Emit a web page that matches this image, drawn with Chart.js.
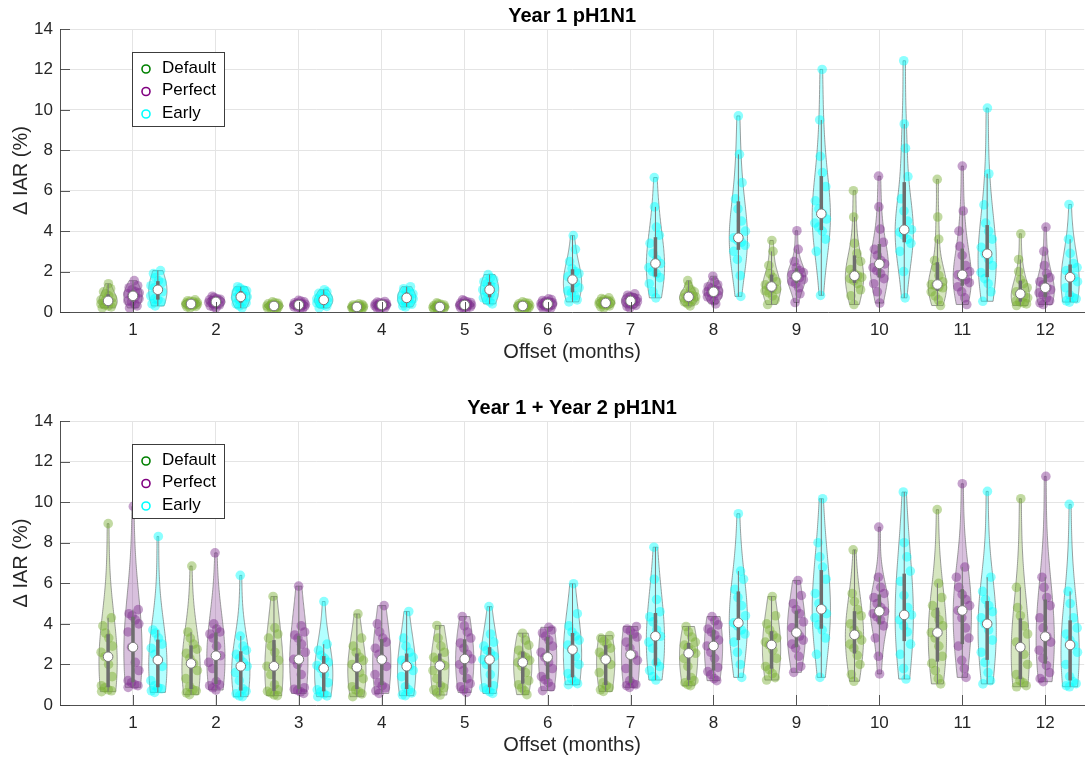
<!DOCTYPE html>
<html><head><meta charset="utf-8">
<script src="https://cdn.jsdelivr.net/npm/chart.js@4.4.0/dist/chart.umd.min.js"></script>
<style>
html,body{margin:0;padding:0;background:#fff;}
body{width:1089px;height:757px;position:relative;overflow:hidden;}
canvas{position:absolute;left:0;}
#c1{top:0;width:1089px;height:364px;}
#c2{top:392px;width:1089px;height:365px;}
</style></head><body>
<canvas id="c1" width="1089" height="364"></canvas>
<canvas id="c2" width="1089" height="365"></canvas>
<script>
// ---------- data ----------
const categories = [1,2,3,4,5,6,7,8,9,10,11,12];
const seriesNames = ['Default','Perfect','Early'];
const yTicks = [0,2,4,6,8,10,12,14];
const panelTitles = ['Year 1 pH1N1','Year 1 + Year 2 pH1N1'];
const xTitle = 'Offset (months)';
const yTitle = '\u0394 IAR (%)';

// Year 1 pH1N1 : samples per offset month
const y1Default = [
  [0.2,0.25,0.3,0.35,0.4,0.45,0.5,0.55,0.6,0.7,0.8,0.9,1.0,1.15,1.4],
  [0.2,0.25,0.28,0.3,0.33,0.36,0.38,0.4,0.42,0.45,0.48,0.5,0.53,0.56,0.6],
  [0.1,0.13,0.16,0.2,0.22,0.25,0.28,0.3,0.32,0.34,0.37,0.4,0.43,0.46,0.5],
  [0.1,0.12,0.15,0.17,0.19,0.21,0.23,0.25,0.27,0.29,0.31,0.33,0.35,0.37,0.4],
  [0.1,0.12,0.15,0.17,0.19,0.21,0.23,0.25,0.27,0.29,0.32,0.35,0.38,0.41,0.45],
  [0.1,0.13,0.16,0.19,0.22,0.25,0.28,0.3,0.32,0.34,0.37,0.4,0.43,0.46,0.5],
  [0.2,0.25,0.3,0.33,0.36,0.4,0.43,0.45,0.48,0.5,0.54,0.58,0.62,0.66,0.7],
  [0.3,0.4,0.5,0.55,0.6,0.65,0.7,0.75,0.8,0.85,0.9,1.0,1.1,1.3,1.55],
  [0.37,0.6,0.8,0.95,1.05,1.12,1.2,1.26,1.35,1.5,1.7,1.9,2.3,3.0,3.54],
  [0.37,0.8,1.1,1.4,1.55,1.65,1.72,1.79,1.9,2.1,2.5,2.9,3.4,4.7,6.0],
  [0.32,0.6,0.8,1.0,1.2,1.25,1.3,1.36,1.5,1.8,2.2,2.55,3.6,4.7,6.56],
  [0.32,0.4,0.45,0.5,0.55,0.7,0.8,0.9,1.0,1.2,1.4,1.6,2.0,2.6,3.87]
];
const y1Perfect = [
  [0.2,0.3,0.4,0.5,0.55,0.65,0.75,0.8,0.9,0.95,1.0,1.1,1.2,1.3,1.55],
  [0.2,0.25,0.3,0.35,0.4,0.44,0.47,0.5,0.53,0.56,0.6,0.63,0.67,0.72,0.78],
  [0.15,0.18,0.22,0.25,0.28,0.3,0.33,0.35,0.38,0.4,0.43,0.46,0.5,0.54,0.58],
  [0.15,0.18,0.21,0.24,0.27,0.3,0.33,0.35,0.37,0.39,0.41,0.43,0.46,0.49,0.52],
  [0.15,0.18,0.22,0.25,0.28,0.3,0.33,0.35,0.38,0.41,0.44,0.47,0.5,0.55,0.6],
  [0.15,0.19,0.23,0.27,0.3,0.34,0.37,0.4,0.43,0.46,0.5,0.53,0.57,0.61,0.65],
  [0.2,0.27,0.33,0.38,0.42,0.47,0.51,0.55,0.59,0.63,0.67,0.72,0.77,0.83,0.9],
  [0.4,0.55,0.65,0.75,0.82,0.9,0.95,1.0,1.05,1.1,1.18,1.25,1.35,1.5,1.77],
  [0.47,0.9,1.2,1.4,1.5,1.6,1.7,1.76,1.85,1.95,2.05,2.2,2.5,3.1,4.02],
  [0.44,1.0,1.4,1.65,1.9,2.05,2.2,2.38,2.55,2.8,3.1,3.45,4.1,5.2,6.72],
  [0.37,0.7,1.0,1.25,1.45,1.6,1.72,1.84,2.0,2.3,2.8,3.25,4.0,5.0,7.22],
  [0.37,0.45,0.55,0.7,0.85,0.95,1.1,1.2,1.35,1.5,1.7,1.9,2.3,3.0,4.2]
];
const y1Early = [
  [0.3,0.4,0.5,0.6,0.65,0.8,1.0,1.1,1.2,1.3,1.45,1.55,1.7,1.9,2.05],
  [0.2,0.3,0.4,0.45,0.5,0.6,0.7,0.75,0.8,0.9,1.0,1.05,1.1,1.18,1.25],
  [0.2,0.28,0.35,0.4,0.45,0.5,0.55,0.6,0.65,0.7,0.78,0.85,0.92,1.0,1.1],
  [0.25,0.3,0.38,0.45,0.5,0.58,0.65,0.7,0.75,0.82,0.9,0.98,1.05,1.15,1.25],
  [0.4,0.5,0.6,0.7,0.8,0.9,1.0,1.1,1.2,1.3,1.4,1.5,1.6,1.7,1.85],
  [0.5,0.6,0.8,0.95,1.05,1.2,1.45,1.6,1.75,1.9,2.0,2.15,2.5,3.1,3.78],
  [0.7,1.0,1.4,1.7,1.9,2.0,2.2,2.4,2.6,2.9,3.4,3.8,4.2,5.2,6.65],
  [0.77,1.8,2.6,3.0,3.3,3.45,3.55,3.67,4.0,4.5,5.1,5.6,6.4,7.8,9.7],
  [0.82,3.0,3.6,4.0,4.2,4.4,4.6,4.86,5.1,5.5,6.2,6.9,7.7,9.5,12.0],
  [0.7,2.0,3.0,3.4,3.6,3.8,3.95,4.07,4.5,5.0,5.6,6.7,8.1,9.3,12.43],
  [0.53,1.0,1.4,1.65,1.95,2.3,2.6,2.88,3.2,3.6,4.0,4.4,5.3,6.84,10.09],
  [0.49,0.55,0.65,0.72,0.85,1.2,1.5,1.72,1.9,2.05,2.2,2.4,2.9,3.6,5.32]
];

// Year 1 + Year 2 pH1N1
const y2Default = [
  [0.66,0.7,0.75,0.85,0.95,1.4,2.0,2.38,2.6,2.9,3.3,3.55,3.9,4.3,8.94],
  [0.51,0.6,0.7,0.75,0.9,1.3,1.7,2.05,2.3,2.55,2.75,3.0,3.3,3.6,6.85],
  [0.46,0.5,0.6,0.68,0.75,1.0,1.5,1.91,2.2,2.6,2.9,3.3,3.5,3.8,5.35],
  [0.41,0.55,0.65,0.75,0.9,1.3,1.6,1.86,2.0,2.2,2.35,2.6,2.9,3.3,4.49],
  [0.49,0.6,0.75,0.85,0.95,1.3,1.7,1.94,2.05,2.2,2.35,2.6,2.9,3.3,3.92],
  [0.51,0.7,0.85,1.0,1.2,1.6,1.9,2.1,2.2,2.35,2.45,2.7,2.95,3.2,3.54],
  [0.67,0.75,0.85,0.95,1.1,1.6,2.0,2.24,2.4,2.6,2.8,3.0,3.15,3.3,3.42],
  [0.95,1.0,1.1,1.2,1.35,1.9,2.3,2.55,2.7,2.85,2.95,3.1,3.35,3.6,3.87],
  [1.23,1.35,1.55,1.75,1.9,2.3,2.7,2.96,3.1,3.3,3.45,3.7,4.0,4.4,5.35],
  [1.17,1.5,2.0,2.45,2.8,3.0,3.2,3.46,3.7,4.0,4.4,4.7,5.1,5.5,7.65],
  [1.04,1.3,1.7,2.05,2.4,2.9,3.3,3.57,3.9,4.2,4.5,4.9,5.3,6.0,9.63],
  [0.9,0.95,1.1,1.2,1.5,2.0,2.5,2.85,3.1,3.5,3.9,4.4,4.8,5.8,10.17]
];
const y2Perfect = [
  [0.87,0.95,1.0,1.1,1.2,1.7,2.1,2.85,3.6,4.0,4.2,4.4,4.5,4.7,9.79],
  [0.74,0.85,0.95,1.0,1.15,1.8,2.1,2.43,2.9,3.3,3.5,3.6,3.75,4.0,7.5],
  [0.57,0.65,0.72,0.78,0.85,1.5,2.0,2.25,2.6,3.0,3.3,3.45,3.6,3.9,5.86],
  [0.57,0.7,0.85,0.95,1.1,1.5,1.9,2.24,2.5,2.8,3.1,3.3,3.6,4.0,4.9],
  [0.62,0.75,0.9,1.05,1.3,1.7,2.0,2.27,2.5,2.8,3.05,3.3,3.6,3.9,4.36],
  [0.71,0.9,1.1,1.25,1.4,1.8,2.1,2.35,2.6,2.9,3.2,3.4,3.55,3.7,3.83],
  [0.87,0.95,1.0,1.05,1.2,1.8,2.2,2.48,2.8,3.1,3.35,3.5,3.65,3.75,3.87],
  [1.2,1.3,1.5,1.65,1.85,2.3,2.6,2.91,3.2,3.45,3.6,3.75,3.95,4.15,4.36],
  [1.61,1.9,2.4,2.8,3.0,3.2,3.4,3.57,3.8,4.1,4.5,4.7,5.0,5.4,6.14],
  [1.53,2.4,3.3,3.9,4.2,4.35,4.5,4.62,4.8,5.0,5.3,5.5,5.8,6.3,8.77],
  [1.36,1.8,2.2,2.9,3.3,3.8,4.3,4.66,4.9,5.2,5.45,5.8,6.3,6.8,10.91],
  [1.15,1.3,1.6,1.95,2.3,2.7,3.1,3.37,3.8,4.3,4.9,5.3,5.8,6.3,11.27]
];
const y2Early = [
  [0.62,0.7,0.8,0.85,0.95,1.2,1.9,2.22,2.5,2.8,3.0,3.3,3.55,3.7,8.31],
  [0.41,0.45,0.55,0.68,0.8,1.2,1.6,1.91,2.1,2.3,2.5,2.7,2.9,3.4,6.39],
  [0.41,0.45,0.55,0.65,0.75,1.1,1.5,1.81,1.95,2.1,2.3,2.45,2.7,3.0,5.1],
  [0.46,0.5,0.6,0.75,0.9,1.4,1.7,1.91,2.05,2.2,2.35,2.6,2.9,3.3,4.61],
  [0.57,0.65,0.75,0.85,0.95,1.5,2.0,2.24,2.4,2.55,2.7,2.9,3.1,3.5,4.85],
  [1.0,1.05,1.15,1.3,1.55,2.0,2.4,2.73,2.95,3.2,3.4,3.6,3.9,4.5,5.98],
  [1.23,1.4,1.7,1.9,2.1,2.8,3.1,3.39,3.7,4.1,4.35,4.6,5.2,6.2,7.78],
  [1.36,2.0,2.6,3.1,3.5,3.7,3.9,4.05,4.4,4.9,5.3,5.7,6.2,6.6,9.43],
  [1.36,2.5,3.3,3.7,3.95,4.3,4.5,4.72,5.0,5.5,6.2,6.8,7.3,8.0,10.17],
  [1.28,1.8,2.5,3.0,3.6,3.9,4.2,4.44,4.8,5.4,6.1,6.6,7.3,8.0,10.5],
  [1.04,1.2,1.6,2.1,2.6,3.2,3.7,4.0,4.3,4.6,4.9,5.2,5.6,6.3,10.53],
  [0.9,0.95,1.05,1.15,1.4,2.0,2.6,2.96,3.2,3.5,3.8,4.3,5.0,5.6,9.89]
];

// ---------- style ----------
const seriesRGB = [[119,172,48],[126,47,142],[0,255,255]];
const legendRGB = [[0,128,0],[128,0,128],[0,255,255]];
const groupOffsets = [-0.3, 0, 0.3];
const HALF_W = 0.11;
const BW_SCALE = 1.5;
const FONT = '"Liberation Sans", Arial, Helvetica, sans-serif';
const rgba = (c,a) => `rgba(${c[0]},${c[1]},${c[2]},${a})`;

Chart.defaults.font.family = FONT;

function quantileSorted(v, p){
  const n = v.length;
  const pos = n*p + 0.5;
  if (pos <= 1) return v[0];
  if (pos >= n) return v[n-1];
  const i = Math.floor(pos), f = pos - i;
  return v[i-1] + f*(v[i]-v[i-1]);
}

function violinStats(samples){
  const v = samples.slice().sort((a,b)=>a-b);
  const n = v.length;
  const q1 = quantileSorted(v,0.25), med = quantileSorted(v,0.5), q3 = quantileSorted(v,0.75);
  const dev = v.map(a=>Math.abs(a-med)).sort((a,b)=>a-b);
  let bw = BW_SCALE*quantileSorted(dev,0.5)/0.6745*Math.pow(4/(3*n),0.2);
  if (!(bw > 0)) bw = (v[n-1]-v[0])/10 || 0.01;
  const lo = v[0], hi = v[n-1], N = 90;
  const prof = [];
  let maxd = 0;
  for (let i=0;i<=N;i++){
    const yy = lo + (hi-lo)*i/N;
    let d = 0;
    for (const s of v){ const z=(yy-s)/bw; d += Math.exp(-0.5*z*z); }
    prof.push({y:yy, d});
    if (d>maxd) maxd=d;
  }
  prof.forEach(p => p.w = p.d/maxd*HALF_W);
  const widthAt = val => {
    if (hi===lo) return prof[0].w;
    const t = (val-lo)/(hi-lo)*N;
    const i = Math.max(0, Math.min(N-1, Math.floor(t)));
    const f = t - i;
    return prof[i].w + f*(prof[i+1].w - prof[i].w);
  };
  const iqr = q3-q1;
  const lw = Math.min(...v.filter(a=>a>=q1-1.5*iqr));
  const hw = Math.max(...v.filter(a=>a<=q3+1.5*iqr));
  return {v, q1, med, q3, lw, hw, prof, widthAt};
}

function jitter(k, g, s){
  const t = (k*0.7548776662 + g*0.3819660113 + s*0.1234567) % 1;
  return t*2 - 1;
}

function makePlugin(stats){
  return {
    id: 'violins',
    beforeDatasetsDraw(chart){
      const {ctx, chartArea, scales:{x,y}} = chart;
      ctx.save();
      ctx.beginPath(); ctx.rect(chartArea.left, chartArea.top, chartArea.right-chartArea.left, chartArea.bottom-chartArea.top); ctx.clip();
      stats.forEach((ser, si) => ser.forEach((st, gi) => {
        const cx = categories[gi] + groupOffsets[si];
        ctx.beginPath();
        st.prof.forEach((p,i) => {
          const px = x.getPixelForValue(cx + p.w), py = y.getPixelForValue(p.y);
          if (i===0) ctx.moveTo(px,py); else ctx.lineTo(px,py);
        });
        for (let i=st.prof.length-1;i>=0;i--){
          const p = st.prof[i];
          ctx.lineTo(x.getPixelForValue(cx - p.w), y.getPixelForValue(p.y));
        }
        ctx.closePath();
        ctx.fillStyle = rgba(seriesRGB[si], 0.3);
        ctx.fill();
        ctx.strokeStyle = 'rgba(120,120,120,0.9)';
        ctx.lineWidth = 0.8;
        ctx.stroke();
      }));
      ctx.restore();
    },
    afterDatasetsDraw(chart){
      const {ctx, chartArea, scales:{x,y}} = chart;
      ctx.save();
      // boxes, whiskers, medians
      stats.forEach((ser, si) => ser.forEach((st, gi) => {
        const px = x.getPixelForValue(categories[gi] + groupOffsets[si]);
        ctx.strokeStyle = 'rgb(120,120,120)';
        ctx.lineWidth = 1;
        ctx.beginPath();
        ctx.moveTo(px, y.getPixelForValue(st.lw));
        ctx.lineTo(px, y.getPixelForValue(st.hw));
        ctx.stroke();
        ctx.lineWidth = 3.5;
        ctx.strokeStyle = 'rgb(110,110,110)';
        ctx.beginPath();
        ctx.moveTo(px, y.getPixelForValue(st.q1));
        ctx.lineTo(px, y.getPixelForValue(st.q3));
        ctx.stroke();
        ctx.beginPath();
        ctx.arc(px, y.getPixelForValue(st.med), 4.8, 0, Math.PI*2);
        ctx.fillStyle = '#fff';
        ctx.fill();
        ctx.lineWidth = 1;
        ctx.strokeStyle = 'rgb(120,120,120)';
        ctx.stroke();
      }));
      // inward tick marks
      ctx.strokeStyle = 'rgba(60,60,60,0.85)';
      ctx.lineWidth = 1;
      ctx.beginPath();
      x.ticks.forEach(t => { const px = Math.round(x.getPixelForValue(t.value))+0.5; ctx.moveTo(px, chartArea.bottom); ctx.lineTo(px, chartArea.bottom-10); });
      y.ticks.forEach(t => { const py = Math.round(y.getPixelForValue(t.value))+0.5; ctx.moveTo(chartArea.left, py); ctx.lineTo(chartArea.left+10, py); });
      ctx.stroke();
      // legend
      const lx = chartArea.left + 72, ly = chartArea.top + 23, lw = 92, lh = 74;
      ctx.fillStyle = '#fff';
      ctx.fillRect(lx, ly, lw, lh);
      ctx.strokeStyle = 'rgb(60,60,60)';
      ctx.lineWidth = 1;
      ctx.strokeRect(lx+0.5, ly+0.5, lw, lh);
      ctx.font = '17px ' + FONT;
      ctx.textBaseline = 'middle';
      ctx.textAlign = 'left';
      seriesNames.forEach((name, i) => {
        const cy = ly + 16 + i*22.5;
        ctx.beginPath();
        ctx.arc(lx+14, cy+1, 4, 0, Math.PI*2);
        ctx.strokeStyle = rgba(legendRGB[i],1);
        ctx.lineWidth = 1.6;
        ctx.stroke();
        ctx.fillStyle = '#000';
        ctx.fillText(name, lx+30, cy);
      });
      ctx.restore();
    }
  };
}

function buildChart(canvasId, seriesArrays, title){
  const stats = seriesArrays.map(arr => arr.map(s => violinStats(s)));
  const datasets = stats.map((ser, si) => ({
    label: seriesNames[si],
    data: ser.flatMap((st, gi) => st.v.map((val, k) => ({
      x: categories[gi] + groupOffsets[si] + jitter(k, gi, si)*st.widthAt(val)*0.85,
      y: val
    }))),
    backgroundColor: rgba(seriesRGB[si], 0.45),
    borderWidth: 0,
    pointRadius: 4.8,
    pointHoverRadius: 4.8
  }));
  return new Chart(document.getElementById(canvasId), {
    type: 'scatter',
    data: { datasets },
    options: {
      responsive: false,
      animation: false,
      devicePixelRatio: 1,
      events: [],
      layout: { padding: 0 },
      plugins: {
        legend: { display: false },
        tooltip: { enabled: false },
        title: { display: true, text: title, fullSize: false, color: '#000',
                 font: { size: 20, weight: 'bold' }, padding: { top: 4, bottom: 1 } }
      },
      scales: {
        x: {
          type: 'linear', min: 0.12, max: 12.47,
          afterBuildTicks: s => { s.ticks = categories.map(v => ({ value: v })); },
          ticks: { font: { size: 17 }, color: '#262626', padding: 8, maxRotation: 0, callback: v => String(v) },
          grid: { color: '#e4e4e4', drawTicks: false },
          border: { display: true, color: 'rgb(80,80,80)', width: 1 },
          title: { display: true, text: xTitle, color: '#262626', font: { size: 20 }, padding: { top: 0, bottom: 0 } },
          afterFit: s => { s.height = 52; }
        },
        y: {
          min: 0, max: 14,
          afterBuildTicks: s => { s.ticks = yTicks.map(v => ({ value: v })); },
          ticks: { font: { size: 17 }, color: '#262626', padding: 7 },
          grid: { color: '#e4e4e4', drawTicks: false },
          border: { display: true, color: 'rgb(80,80,80)', width: 1 },
          title: { display: true, text: yTitle, color: '#262626', font: { size: 20 }, padding: { top: 9, bottom: 0 } },
          afterFit: s => { s.width = 60; }
        }
      }
    },
    plugins: [makePlugin(stats)]
  });
}

buildChart('c1', [y1Default, y1Perfect, y1Early], panelTitles[0]);
buildChart('c2', [y2Default, y2Perfect, y2Early], panelTitles[1]);
</script>
</body></html>
